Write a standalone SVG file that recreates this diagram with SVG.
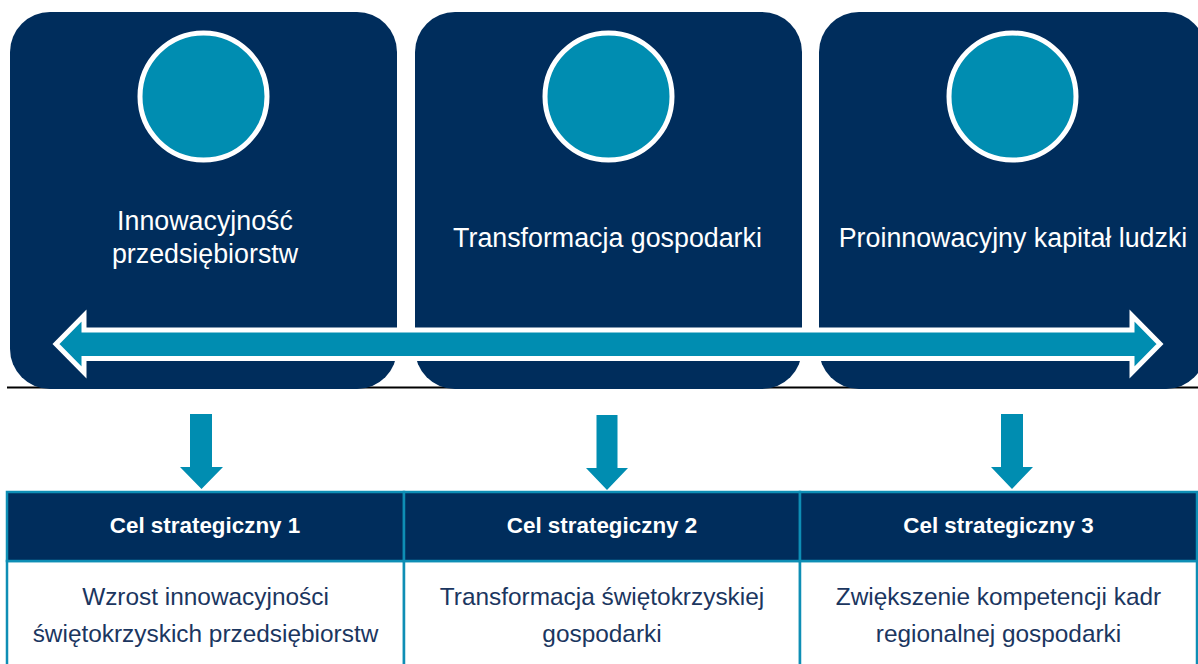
<svg xmlns="http://www.w3.org/2000/svg" width="1198" height="664" viewBox="0 0 1198 664">
<style>
.box{fill:#002D5C}
.circ{fill:#008DB1;stroke:#ffffff;stroke-width:5}
.btxt{font-family:"Liberation Sans",Arial,sans-serif;font-size:26.8px;fill:#ffffff;text-anchor:middle}
.htxt{font-family:"Liberation Sans",Arial,sans-serif;font-size:22.4px;font-weight:bold;fill:#ffffff;text-anchor:middle}
.ttxt{font-family:"Liberation Sans",Arial,sans-serif;font-size:24.4px;fill:#1B365F;text-anchor:middle}
.hcell{fill:#002D5C;stroke:#0E8EB5;stroke-width:2.5}
.bcell{fill:#ffffff;stroke:#0E8EB5;stroke-width:2.5}
.down{fill:#008DB1}
</style>
<rect width="1198" height="664" fill="#ffffff"/>
<line x1="7" y1="387.5" x2="1198" y2="387.5" stroke="#000000" stroke-width="2"/>
<g id="node1">
<rect class="box" x="10" y="12" width="387" height="377" rx="40" ry="40"/>
<circle class="circ" cx="203.5" cy="96.5" r="63.5"/>
<text class="btxt" x="205" y="230">Innowacyjność</text>
<text class="btxt" x="205" y="263">przedsiębiorstw</text>
</g>
<g id="node2">
<rect class="box" x="415" y="12" width="387" height="377" rx="40" ry="40"/>
<circle class="circ" cx="608.5" cy="96.5" r="63.5"/>
<text class="btxt" x="607.5" y="247">Transformacja gospodarki</text>
</g>
<g id="node3">
<rect class="box" x="819" y="12" width="387" height="377" rx="40" ry="40"/>
<circle class="circ" cx="1012.5" cy="96.5" r="63.5"/>
<text class="btxt" x="1013" y="247">Proinnowacyjny kapitał ludzki</text>
</g>
<g id="connectors">
<path d="M56,344 L84,315.5 L84,330 L1132,330 L1132,315.5 L1160,344 L1132,372.5 L1132,358.5 L84,358.5 L84,372.5 Z" fill="#008DB1" stroke="#ffffff" stroke-width="5" stroke-linejoin="miter"/>
<path class="down" d="M190,414 L212,414 L212,467 L223,467 L201.5,489 L180,467 L190,467 Z"/>
<path class="down" d="M596.5,415 L617.5,415 L617.5,468 L628,468 L607,490 L586,468 L596.5,468 Z"/>
<path class="down" d="M1001,414 L1023,414 L1023,467 L1033,467 L1012,489 L991,467 L1001,467 Z"/>
</g>
<g id="goal1">
<rect class="bcell" x="7" y="561" width="397" height="120"/>
<rect class="hcell" x="7" y="492" width="397" height="69"/>
<text class="htxt" x="205" y="533">Cel strategiczny 1</text>
<text class="ttxt" x="205.5" y="605">Wzrost innowacyjności</text>
<text class="ttxt" x="205.5" y="642">świętokrzyskich przedsiębiorstw</text>
</g>
<g id="goal2">
<rect class="bcell" x="404" y="561" width="396" height="120"/>
<rect class="hcell" x="404" y="492" width="396" height="69"/>
<text class="htxt" x="602" y="533">Cel strategiczny 2</text>
<text class="ttxt" x="602" y="605">Transformacja świętokrzyskiej</text>
<text class="ttxt" x="602" y="642">gospodarki</text>
</g>
<g id="goal3">
<rect class="bcell" x="800" y="561" width="397" height="120"/>
<rect class="hcell" x="800" y="492" width="397" height="69"/>
<text class="htxt" x="998.5" y="533">Cel strategiczny 3</text>
<text class="ttxt" x="998.5" y="605">Zwiększenie kompetencji kadr</text>
<text class="ttxt" x="998.5" y="642">regionalnej gospodarki</text>
</g>
</svg>
